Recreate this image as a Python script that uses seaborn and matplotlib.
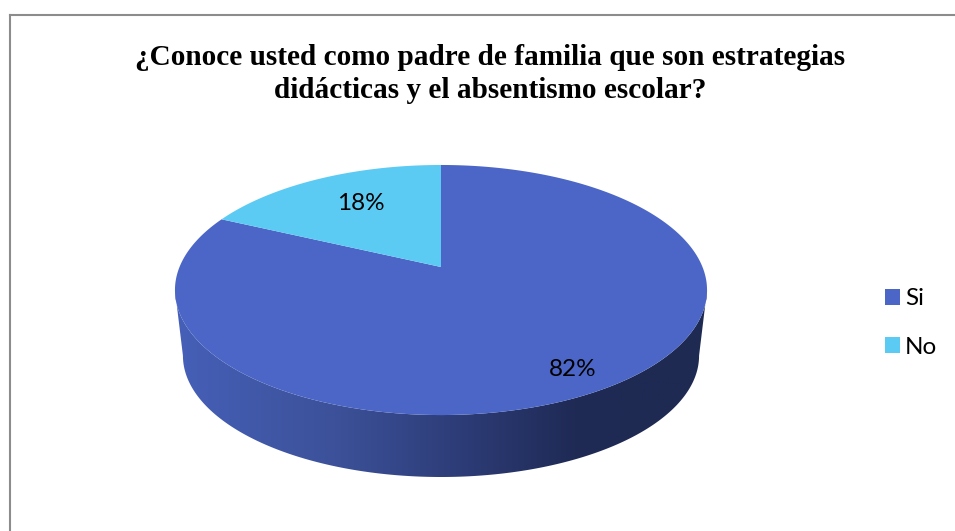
#!/usr/bin/env python3
"""Pie with a drawn perspective: top face plus a shaded side wall."""

import matplotlib
matplotlib.use("Agg")
import matplotlib.pyplot as plt
import numpy as np
import seaborn as sns
from matplotlib.colors import LinearSegmentedColormap
from matplotlib.patches import Patch, Polygon

TITLE = "¿Conoce usted como padre de familia que son estrategias\ndidácticas y el absentismo escolar?"
LABELS = ["Si", "No"]
VALUES = [82, 18]
COLORS = ["#4b66c6", "#5bcbf3"]
WALL_COLORS = ["#4660b8", "#3c5199", "#2c3b75", "#1f2a55", "#1f2a52"]

# geometry of the projected disc, in image pixels
CX, CY = 441, 267
K, A, B = 0.184, 120.8, 261.5
DEPTH_Y, DEPTH_SCALE = 66.4, 0.97


def project(theta_deg, scale=1.0, dy=0.0):
    """Unit-circle angle to image pixels, with the far edge foreshortened."""
    t = np.radians(theta_deg)
    x, y = np.cos(t), np.sin(t)
    w = 1 + K * y
    return CX + scale * B * x / w, CY + dy - scale * A * y / w


def outline(theta1, theta2):
    xs, ys = project(np.linspace(theta1, theta2, 300))
    return np.column_stack([np.r_[CX, xs], np.r_[CY, ys]])


sns.set_theme(style="white")
plt.rcParams["font.family"] = ["Lato", "DejaVu Sans"]

fig = plt.figure(figsize=(9.55, 5.31), dpi=100)
ax = fig.add_axes([0, 0, 1, 1])

palette = sns.color_palette(COLORS)
wedges, _ = ax.pie(VALUES, colors=palette, startangle=90, counterclock=False)

# side wall, between the near rim of the top face and the same rim shifted down
full = np.linspace(90, 450, 1440)
fx, _ = project(full)
start, end = full[np.argmin(fx)], full[np.argmax(fx)]
arc = np.linspace(start, end, 400)
tx, ty = project(arc)
lx, ly = project(arc, DEPTH_SCALE, DEPTH_Y)
wall_pts = np.column_stack([np.r_[tx, lx[::-1]], np.r_[ty, ly[::-1]]])
wall = Polygon(wall_pts, closed=True, facecolor="none", edgecolor="none")
ax.add_patch(wall)

cmap = LinearSegmentedColormap.from_list("wall", list(zip([0, 0.3, 0.55, 0.75, 1], WALL_COLORS)))
gradient = np.linspace(0, 1, 256).reshape(1, -1)
img = ax.imshow(gradient, cmap=cmap, aspect="auto", extent=(175, 707, 480, 285), zorder=1)
img.set_clip_path(wall)

# top face, using the angles the pie computed
for wedge, color in zip(wedges, palette):
    pts = outline(wedge.theta1, wedge.theta2)
    wedge.remove()
    ax.add_patch(Polygon(pts, closed=True, facecolor=color, edgecolor="none", zorder=2))

ax.set_aspect("auto")
ax.set_xlim(0, 955)
ax.set_ylim(531, 0)
ax.axis("off")

# chart frame, right and bottom sides fall outside the crop
ax.plot([9.5, 9.5], [531, 14.5], color="#8c8c8c", lw=1.5, solid_capstyle="projecting", zorder=3)
ax.plot([9.5, 955], [14.5, 14.5], color="#8c8c8c", lw=1.5, solid_capstyle="projecting", zorder=3)

ax.text(490, 74, TITLE, ha="center", va="center", fontsize=21.1, fontweight="bold",
        family="Liberation Serif", color="black", linespacing=1.3)

ax.text(573, 370, f"{VALUES[0]}%", ha="center", va="center", fontsize=17.5, color="black", zorder=4)
ax.text(361, 204, f"{VALUES[1]}%", ha="center", va="center", fontsize=17.5, color="black", zorder=4)

handles = [Patch(facecolor=c, edgecolor="none", label=l) for c, l in zip(palette, LABELS)]
ax.legend(handles=handles, loc="center left", bbox_to_anchor=(885 / 955, 1 - 323 / 531),
          frameon=False, fontsize=17.5, handlelength=0.62, handleheight=0.62,
          handletextpad=0.2, labelspacing=1.12, borderpad=0, borderaxespad=0, labelcolor="black")

fig.savefig("out.png", dpi=100)
